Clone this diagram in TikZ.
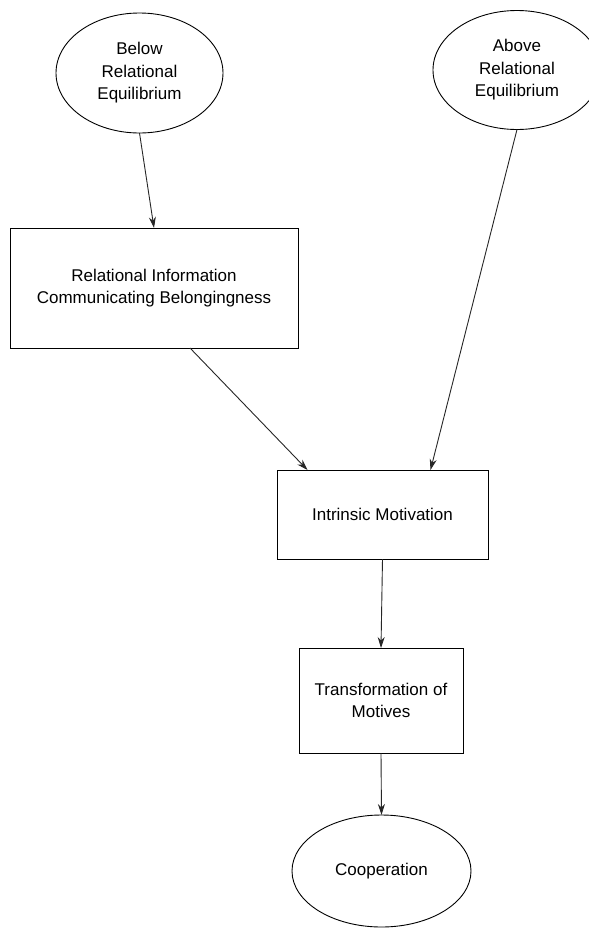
\documentclass[tikz,border=0pt]{standalone}
\usepackage{fontspec}
\setmainfont{Liberation Sans}
\usepackage{tikz}
\usetikzlibrary{arrows.meta,shapes.geometric,positioning}
\tikzstyle{box} = [rectangle, draw, align=center, inner sep=0pt, outer sep=0pt,
    font=\fontsize{17}{22.5}\selectfont]
\tikzstyle{oval} = [draw, ellipse, align=center, inner sep=0pt, outer sep=0pt,
    font=\fontsize{17}{22.5}\selectfont]
\tikzstyle{link} = [-{Stealth[length=11pt,width=7pt]}, line width=0.9pt, black!85]

\begin{document}
\begin{tikzpicture}[x=1pt,y=-1pt,line width=0.9pt]
  \useasboundingbox (0,0) rectangle (589,930);
  \clip (0,0) rectangle (589,930);
  % Place nodes
  \node [oval, minimum width=167pt, minimum height=120pt] (below) at (139.5,73) {Below\\Relational\\Equilibrium};
  \node [oval, minimum width=168pt, minimum height=119pt] (above) at (517,70) {Above\\Relational\\Equilibrium};
  \node [box, minimum width=288pt, minimum height=120pt] (info) at (154,288) {Relational Information\\Communicating Belongingness};
  \node [box, minimum width=211pt, minimum height=89pt] (intrinsic) at (382.5,514.5) {Intrinsic Motivation};
  \node [box, minimum width=164pt, minimum height=105pt] (transform) at (381,700.5) {Transformation of\\Motives};
  \node [oval, minimum width=179pt, minimum height=112pt] (coop) at (381.5,871) {Cooperation};
  % Draw edges
  \draw[link] (below.south) -- (info.north);
  \draw[link] ([xshift=36pt]info.south) -- ([xshift=-75pt]intrinsic.north);
  \draw[link] (above.south) -- ([xshift=48pt]intrinsic.north);
  \draw[link] (intrinsic.south) -- (transform.north);
  \draw[link] (transform.south) -- (coop.north);
\end{tikzpicture}
\end{document}
